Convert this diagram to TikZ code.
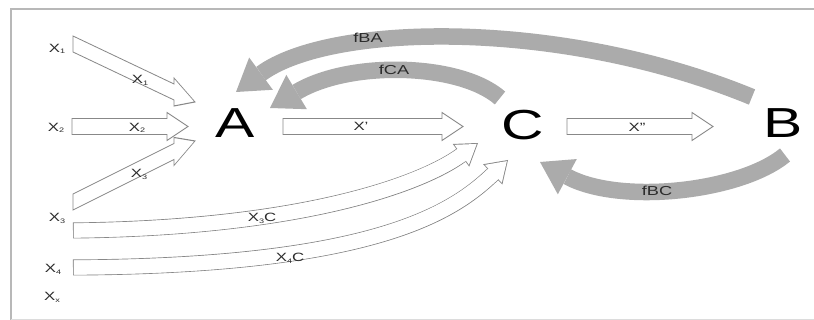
\documentclass[tikz,border=0pt]{standalone}
\usepackage{fontspec}
\setmainfont{Liberation Sans}
\usepackage{graphicx}
\usetikzlibrary{arrows.meta}

\definecolor{edgegray}{HTML}{888888}
\definecolor{bandgray}{HTML}{ABABAB}
\definecolor{framegray}{HTML}{B8B8B8}
\definecolor{inkgray}{HTML}{2B2B2B}

% letters in this figure are set wide
\newcommand\wide[1]{\scalebox{1.4}[1]{#1}}
% small lowered index
\newcommand\idx[1]{\raisebox{-1.2pt}{\fontsize{6.5}{6.5}\selectfont #1}}
% curved hollow block arrow: grey outline, white body
\newcommand\hollowarrow[1]{%
  \draw[hollow outer] #1;
  \draw[hollow inner] #1;
  \draw[hollow core] #1;}
% straight hollow block arrow from a tail point, given its length
\newcommand\straightarrow[2]{%
  \draw[blockline] (#1) ++(0,-8) -- ++(#2-21,0) -- ++(0,-6) -- ++(21,14)
    -- ++(-21,14) -- ++(0,-6) -- ++(-#2+21,0) -- cycle;}

\begin{document}
\begin{tikzpicture}[x=1pt,y=1pt,
  blockline/.style={draw=edgegray, fill=white, line width=0.9pt, line join=miter},
  hollow outer/.style={line width=16pt, draw=edgegray,
    -{Triangle[width=28pt,length=21pt,line width=0pt]}},
  hollow inner/.style={line width=14.2pt, draw=white, shorten <=0.9pt, shorten >=1.62pt,
    -{Triangle[width=24.6pt,length=18.5pt,line width=0pt]}},
  hollow core/.style={line width=14.2pt, draw=white, shorten <=0.9pt, shorten >=19.3pt},
  feedback/.style={line width=16.5pt, draw=bandgray,
    -{Triangle[width=40pt,length=31pt,line width=0pt]}},
  letter/.style={font=\fontsize{42}{42}\selectfont, text=black, anchor=base, inner sep=0pt},
  tag/.style={font=\fontsize{12}{12}\selectfont, text=inkgray, anchor=base, inner sep=0pt},
  ftag/.style={font=\fontsize{13}{13}\selectfont, text=inkgray, anchor=base, inner sep=0pt}]

\useasboundingbox (0,0) rectangle (814,-320);

% frame
\draw[framegray, line width=1.2pt] (818,-9) -- (11,-9) -- (11,-324);
\draw[framegray!50, line width=0.8pt] (11,-319.5) -- (818,-319.5);

% main nodes
\node[letter] (A) at (235,-138) {\wide{A}};
\node[letter] (C) at (523,-139.5) {\wide{C}};
\node[letter] (B) at (783,-138) {\wide{B}};

% inputs
\node[tag] (in1) at (57,-52.5) {\wide{X\idx{1}}};
\node[tag] (in2) at (56,-131.5) {\wide{X\idx{2}}};
\node[tag] (in3) at (57,-222) {\wide{X\idx{3}}};
\node[tag] (in4) at (53,-273) {\wide{X\idx{4}}};
\node[tag] (inx) at (52,-301) {\wide{X\idx{x}}};

% feedback arcs
\coordinate (fbatail) at (752,-97);
\coordinate (fbatip) at (236,-92);
\coordinate (fcatail) at (500,-98);
\coordinate (fcatip) at (270,-108);
\coordinate (fbctail) at (785,-155);
\coordinate (fbctip) at (540,-162);
\draw[feedback] (fbatail) .. controls (560,-18) and (330,-23) .. (fbatip);
\draw[feedback] (fcatail) .. controls (460,-63) and (350,-60) .. (fcatip);
\draw[feedback] (fbctail) .. controls (740,-192) and (620,-205) .. (fbctip);

% slanted inputs into A
\begin{scope}[transform canvas={shift={(73,-44)}, yslant=-0.475}]
  \coordinate (x1tail) at (0,0);
  \straightarrow{x1tail}{122}
\end{scope}
\begin{scope}[transform canvas={shift={(73,-202)}, yslant=0.5}]
  \coordinate (x3tail) at (0,0);
  \straightarrow{x3tail}{122}
\end{scope}

% straight flows
\coordinate (x2tail) at (72,-126.5);
\coordinate (xptail) at (283,-126.5);
\coordinate (xpptail) at (567,-126.5);
\straightarrow{x2tail}{116}
\straightarrow{xptail}{180}
\straightarrow{xpptail}{146}

% direct inputs into C
\coordinate (x3ctail) at (73,-230.5);
\coordinate (x3ctip) at (478,-143);
\coordinate (x4ctail) at (73,-267.5);
\coordinate (x4ctip) at (508,-160);
\hollowarrow{(x3ctail) .. controls (300,-228) and (420,-185) .. (x3ctip)}
\hollowarrow{(x4ctail) .. controls (380,-266) and (455,-210) .. (x4ctip)}

% flow labels
\node[tag] (l1) at (140,-84) {\wide{X\idx{1}}};
\node[tag] (l2) at (137,-131.5) {\wide{X\idx{2}}};
\node[tag] (l3) at (139,-178) {\wide{X\idx{3}}};
\node[tag] (lp) at (361,-131) {\wide{X'}};
\node[tag] (lpp) at (637,-131.5) {\wide{X''}};
\node[tag] (l3c) at (262,-222) {\wide{X\idx{3}C}};
\node[tag] (l4c) at (290,-262) {\wide{X\idx{4}C}};
\node[ftag] (lba) at (368,-43) {\wide{fBA}};
\node[ftag] (lca) at (394,-75) {\wide{fCA}};
\node[ftag] (lbc) at (657,-196) {\wide{fBC}};
\end{tikzpicture}
\end{document}
